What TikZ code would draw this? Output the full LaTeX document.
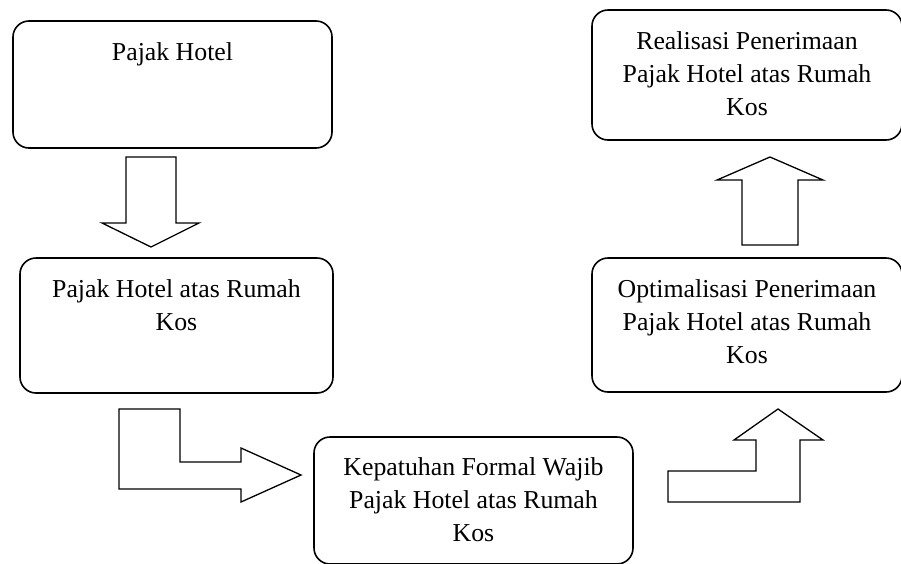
\documentclass[tikz,border=0pt]{standalone}
\usepackage{fontspec}
\setmainfont{Liberation Serif}
\usetikzlibrary{positioning}
\tikzset{
  kotak/.style={draw,rounded corners=16pt,line width=1.6pt},
  isi/.style={align=center,inner sep=0pt,font=\fontsize{25.8}{33}\selectfont},
  panah/.style={draw,line width=1.3pt,line join=miter}
}
\begin{document}
\begin{tikzpicture}[x=1pt,y=-1pt]
\useasboundingbox (0,0) rectangle (901,563);
% kotak
\node[kotak,minimum width=319pt,minimum height=127pt] (hotel) at (172.5,84.5) {};
\node[kotak,minimum width=313pt,minimum height=135pt] (rumahkos) at (176.5,325.5) {};
\node[kotak,minimum width=319pt,minimum height=127pt] (kepatuhan) at (473.5,500.5) {};
\node[kotak,minimum width=310pt,minimum height=134pt] (optimal) at (747,325) {};
\node[kotak,minimum width=310pt,minimum height=130pt] (realisasi) at (747,75) {};
% teks
\node[isi,below=22pt of hotel.north] (hotelteks) {Pajak Hotel};
\node[isi,below=22pt of rumahkos.north] (rumahkosteks) {Pajak Hotel atas Rumah\\Kos};
\node[isi,below=21pt of kepatuhan.north] (kepatuhanteks) {Kepatuhan Formal Wajib\\Pajak Hotel atas Rumah\\Kos};
\node[isi,below=22pt of optimal.north] (optimalteks) {Optimalisasi Penerimaan\\Pajak Hotel atas Rumah\\Kos};
\node[isi,below=22pt of realisasi.north] (realisasiteks) {Realisasi Penerimaan\\Pajak Hotel atas Rumah\\Kos};
% panah blok
\draw[panah] (126,157) -- (176,157) -- (176,223) -- (199,223) -- (151,247)
  -- (102,223) -- (126,223) -- cycle;
\draw[panah] (119,409) -- (180,409) -- (180,462) -- (241,462) -- (241,448)
  -- (301,475) -- (241,502) -- (241,489) -- (119,489) -- cycle;
\draw[panah] (668,471) -- (756,471) -- (756,440) -- (734,440) -- (778,409)
  -- (823,440) -- (800,440) -- (800,502) -- (668,502) -- cycle;
\draw[panah] (742,245) -- (798,245) -- (798,180) -- (823,180) -- (770,157)
  -- (717,180) -- (742,180) -- cycle;
\end{tikzpicture}
\end{document}
